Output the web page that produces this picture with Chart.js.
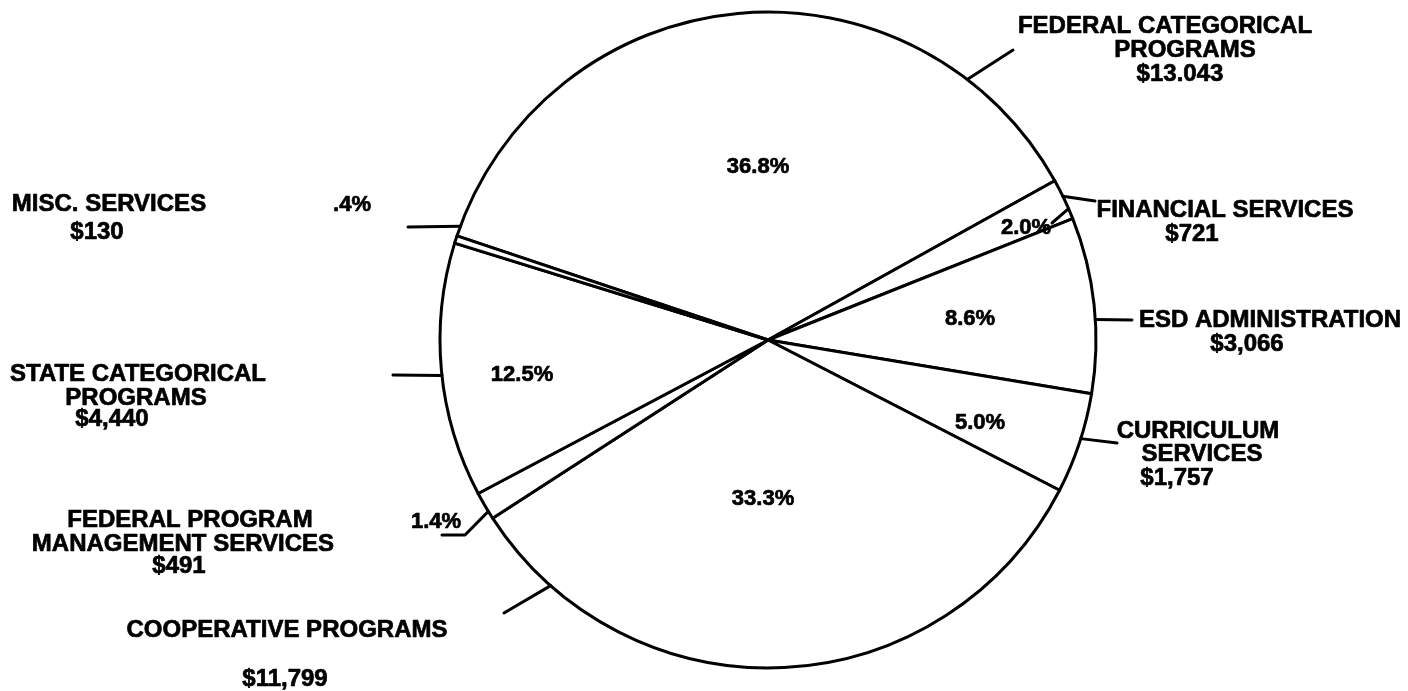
<!DOCTYPE html>
<html>
<head>
<meta charset="utf-8">
<title>ESD expenditures by program</title>
<script src="https://cdn.jsdelivr.net/npm/chart.js@4.4.1/dist/chart.umd.min.js"></script>
<style>
  html, body { margin: 0; padding: 0; background: #fff; }
  #wrap { width: 1408px; height: 691px; }
</style>
</head>
<body>
<div id="wrap"><canvas id="pie"></canvas></div>
<script>
// slices go clockwise, starting at the upper-left edge of the big federal slice
const categories = [
  "FEDERAL CATEGORICAL PROGRAMS", "FINANCIAL SERVICES", "ESD ADMINISTRATION",
  "CURRICULUM SERVICES", "COOPERATIVE PROGRAMS", "FEDERAL PROGRAM MANAGEMENT SERVICES",
  "STATE CATEGORICAL PROGRAMS", "MISC. SERVICES"
];
const amounts = [13043, 721, 3066, 1757, 11799, 491, 4440, 130];
const amountLabels = ["$13.043", "$721", "$3,066", "$1,757", "$11,799", "$491", "$4,440", "$130"];
const percentLabels = ["36.8%", "2.0%", "8.6%", "5.0%", "33.3%", "1.4%", "12.5%", ".4%"];
const nameLines = [
  ["FEDERAL CATEGORICAL", "PROGRAMS"],
  ["FINANCIAL SERVICES"],
  ["ESD ADMINISTRATION"],
  ["CURRICULUM", "SERVICES"],
  ["COOPERATIVE PROGRAMS"],
  ["FEDERAL PROGRAM", "MANAGEMENT SERVICES"],
  ["STATE CATEGORICAL", "PROGRAMS"],
  ["MISC. SERVICES"]
];

// text placement: centre x / cap-centre y of every line
const nameSpots = [
  [[1165, 24], [1185, 48]],
  [[1225, 208]],
  [[1270, 318]],
  [[1198, 429], [1202, 452]],
  [[287, 628]],
  [[190, 518], [183, 542]],
  [[138, 372], [136, 396]],
  [[109, 202]]
];
const amountSpots = [[1180, 72], [1192, 232], [1247, 342], [1177, 476], [285, 677], [179, 564], [112, 417], [97, 230]];
const percentSpots = [[758, 165], [1026, 226], [970, 317], [980, 421], [763, 497], [436, 520], [522, 373], [352, 203]];

// leader lines: angle (deg, counter-clockwise from 3 o'clock) where they leave the circle, then outer points
const leaders = [
  { angle: 52.6, to: [[1013, 50]] },
  { angle: 26.0, to: [[1095, 201]] },
  { angle: 23.6, to: [[1052, 223]] },
  { angle: 3.6, to: [[1132, 320]] },
  { angle: -17.5, to: [[1117, 443]] },
  { angle: 228.5, to: [[504, 613]] },
  { angle: 211.5, to: [[465, 535], [442, 535]] },
  { angle: 186.2, to: [[393, 375]] },
  { angle: 159.7, to: [[408, 227]] }
];

const NAME_SIZE = 24;
const PCT_SIZE = 22;
const FAMILY = '"Liberation Sans", Arial, Helvetica, sans-serif';

// heavier print look: fill plus a thin outline
function inkText(ctx, t, x, y) {
  ctx.fillText(t, x, y);
  ctx.strokeText(t, x, y);
}

const annotate = {
  id: "annotate",
  afterDatasetsDraw(chart) {
    const ctx = chart.ctx;
    const arc = chart.getDatasetMeta(0).data[0];
    const cx = arc.x, cy = arc.y, r = arc.outerRadius;
    ctx.save();
    ctx.strokeStyle = "#000";
    ctx.lineWidth = 3;
    ctx.lineCap = "round";
    ctx.lineJoin = "round";
    leaders.forEach(l => {
      const a = l.angle * Math.PI / 180;
      ctx.beginPath();
      ctx.moveTo(cx + r * Math.cos(a), cy - r * Math.sin(a));
      l.to.forEach(p => ctx.lineTo(p[0], p[1]));
      ctx.stroke();
    });

    ctx.fillStyle = "#000";
    ctx.lineWidth = 0.7;
    ctx.textAlign = "center";
    ctx.textBaseline = "alphabetic";
    ctx.font = "bold " + NAME_SIZE + "px " + FAMILY;
    const off = 0.36 * NAME_SIZE;
    nameLines.forEach((lines, i) => {
      lines.forEach((t, j) => inkText(ctx, t, nameSpots[i][j][0], nameSpots[i][j][1] + off));
    });
    amountLabels.forEach((t, i) => inkText(ctx, t, amountSpots[i][0], amountSpots[i][1] + off));

    ctx.font = "bold " + PCT_SIZE + "px " + FAMILY;
    percentLabels.forEach((t, i) => inkText(ctx, t, percentSpots[i][0], percentSpots[i][1] + 0.36 * PCT_SIZE));
    ctx.restore();
  }
};

new Chart(document.getElementById("pie"), {
  type: "pie",
  data: {
    labels: categories,
    datasets: [{
      data: amounts,
      backgroundColor: "#fff",
      borderColor: "#000",
      borderWidth: 3,
      borderJoinStyle: "round",
      hoverOffset: 0
    }]
  },
  options: {
    responsive: true,
    maintainAspectRatio: false,
    animation: false,
    rotation: -71.5,
    radius: 328,
    layout: { padding: { left: 128, right: 0, top: 0, bottom: 11 } },
    plugins: {
      legend: { display: false },
      tooltip: { enabled: false }
    }
  },
  plugins: [annotate]
});
</script>
</body>
</html>
